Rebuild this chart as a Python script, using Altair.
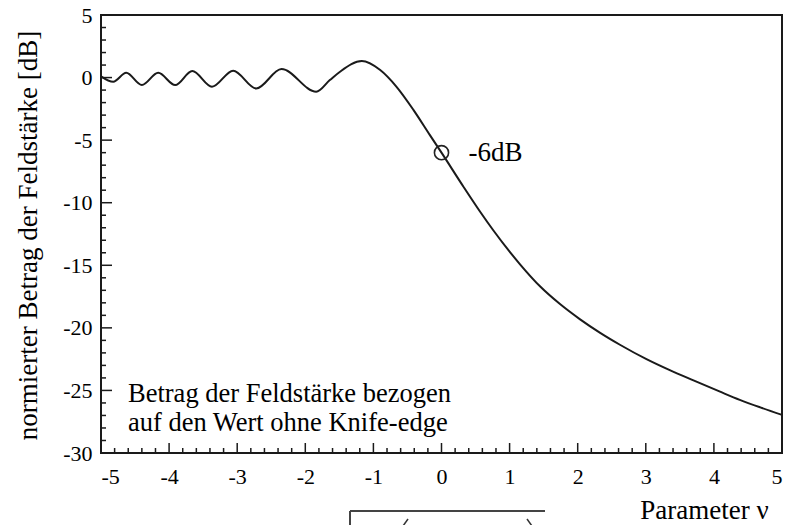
import altair as alt
import pandas as pd

# ---- data ----
V = [-5.00, -4.82, -4.63, -4.40, -4.16, -3.91, -3.66, -3.37, -3.06, -2.72,
     -2.35, -1.84, -1.64, -1.49, -1.17, -0.90, -0.66, -0.41, -0.17, 0.00,
     0.32, 0.565, 0.76, 1.15, 1.45, 1.74, 2.03, 2.33, 2.62, 3.01,
     3.36, 3.70, 4.09, 4.38, 4.68, 5.00]
DB = [0.10, -0.33, 0.38, -0.60, 0.38, -0.60, 0.52, -0.73, 0.55, -0.87,
      0.68, -1.13, -0.20, 0.47, 1.32, 0.60, -0.74, -2.60, -4.60, -6.00,
      -8.70, -10.7, -12.2, -14.9, -16.7, -18.1, -19.3, -20.4, -21.35, -22.5,
      -23.4, -24.2, -25.1, -25.75, -26.35, -26.95]

X_MAJOR = [-5, -4, -3, -2, -1, 0, 1, 2, 3, 4, 5]
X_MINOR = [round(-5 + 0.2 * i, 1) for i in range(51) if i % 5]
Y_MAJOR = [5, 0, -5, -10, -15, -20, -25, -30]
Y_MINOR = [y for y in range(-30, 6) if y % 5]

MARK_V = [0.0]
MARK_DB = [-6.0]
MARK_TEXT = ["-6dB"]
NOTE_LINES = ["Betrag der Feldstärke bezogen", "auf den Wert ohne Knife-edge"]
Y_TITLE = "normierter Betrag der Feldstärke [dB]"
X_TITLE = "Parameter ν"

W, H = 681, 438
FONT = "Liberation Serif"
INK = "#1a1a1a"

xs = alt.Scale(domain=[-5, 5], nice=False, zero=False)
ys = alt.Scale(domain=[-30, 5], nice=False, zero=False)

AX_X = alt.Axis(
    values=X_MAJOR, ticks=False, domain=False, grid=False,
    labelExpr="'' + datum.value", labelFont=FONT, labelFontSize=22,
    labelPadding=13, labelColor="black",
    title=X_TITLE, titleFont=FONT, titleFontSize=27, titleFontWeight="normal",
    titleColor="black", titleX=603, titleY=65, titleAlign="center",
    titleBaseline="alphabetic")
AX_Y = alt.Axis(
    values=Y_MAJOR, ticks=False, domain=False, grid=False,
    labelExpr="'' + datum.value", labelFont=FONT, labelFontSize=22,
    labelPadding=9, labelColor="black",
    title=Y_TITLE, titleFont=FONT, titleFontSize=27, titleFontWeight="normal",
    titleColor="black", titleX=-73, titleY=H / 2 + 1, titleAngle=-90,
    titleAlign="center", titleBaseline="middle")

def X(field="v"):
    return alt.X(f"{field}:Q", scale=xs, axis=AX_X)

def Y(field="db"):
    return alt.Y(f"{field}:Q", scale=ys, axis=AX_Y)

curve = pd.DataFrame({"v": V, "db": DB})
line = alt.Chart(curve).mark_line(color=INK, strokeWidth=2, interpolate="monotone").encode(
    x=X(), y=Y())

def xticks(vals, length):
    return alt.Chart(pd.DataFrame({"v": vals})).mark_rule(color=INK, strokeWidth=1.5).encode(
        x=X(), y=alt.value(H), y2=alt.value(H - length))

def yticks(vals, length):
    return alt.Chart(pd.DataFrame({"db": vals})).mark_rule(color=INK, strokeWidth=1.5).encode(
        y=Y(), x=alt.value(0), x2=alt.value(length))

mark_df = pd.DataFrame({"v": MARK_V, "db": MARK_DB, "t": MARK_TEXT})
circle = alt.Chart(mark_df).mark_point(shape="circle", filled=False, size=200,
                                       stroke="#222", strokeWidth=1.6, opacity=1).encode(
    x=X(), y=Y())
circle_label = alt.Chart(mark_df).mark_text(align="left", baseline="middle", dx=27,
                                            font=FONT, fontSize=27, color="black").encode(
    x=X(), y=Y(), text="t:N")

note1 = alt.Chart(pd.DataFrame({"t": [NOTE_LINES[0]]})).mark_text(
    align="left", baseline="alphabetic", font=FONT, fontSize=26.5, color="black").encode(
    x=alt.value(27), y=alt.value(387), text="t:N")
note2 = alt.Chart(pd.DataFrame({"t": [NOTE_LINES[1]]})).mark_text(
    align="left", baseline="alphabetic", font=FONT, fontSize=26.5, color="black").encode(
    x=alt.value(27), y=alt.value(416), text="t:N")

# fragment of the formula below the chart (square-root bar and bracket tips)
one = pd.DataFrame({"a": [0]})
bar = alt.Chart(one).mark_rule(color="#444", strokeWidth=2).encode(
    x=alt.value(249), x2=alt.value(444), y=alt.value(496))
bar_v = alt.Chart(one).mark_rule(color="#444", strokeWidth=2).encode(
    x=alt.value(249), y=alt.value(496), y2=alt.value(515))
lpar = alt.Chart(one).mark_rule(color="#333", strokeWidth=1.5).encode(
    x=alt.value(307), x2=alt.value(302), y=alt.value(504), y2=alt.value(511))
rpar = alt.Chart(one).mark_rule(color="#333", strokeWidth=1.5).encode(
    x=alt.value(426), x2=alt.value(431), y=alt.value(504), y2=alt.value(511))

chart = alt.layer(
    line,
    xticks(X_MAJOR, 10), xticks(X_MINOR, 5),
    yticks(Y_MAJOR, 11), yticks(Y_MINOR, 5),
    circle, circle_label, note1, note2, bar, bar_v, lpar, rpar,
).properties(
    width=W, height=H,
    autosize=alt.AutoSizeParams(type="none"),
    padding={"left": 101, "top": 15, "right": 10, "bottom": 72},
).configure_view(stroke=INK, strokeWidth=2)

chart.save("out.html", embed_options={"renderer": "svg", "actions": False})
